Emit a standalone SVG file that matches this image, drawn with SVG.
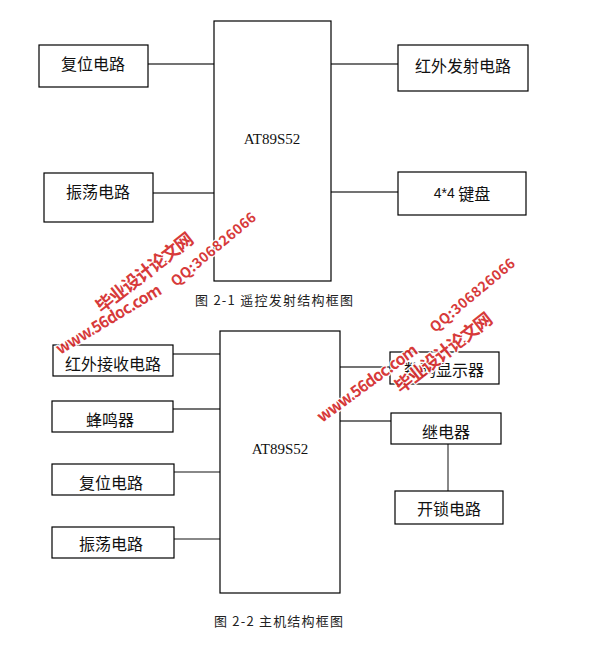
<svg xmlns="http://www.w3.org/2000/svg" width="594" height="653" viewBox="0 0 594 653">
<style>
.box{fill:#fff;stroke:#000;stroke-width:1.2}
.t{font-family:"Noto Sans CJK SC","Noto Sans",sans-serif;font-size:16px;fill:#111;text-anchor:middle;dominant-baseline:central}
.m{font-family:"Liberation Serif",serif;font-size:15px;fill:#111;text-anchor:middle;dominant-baseline:central}
.cap{font-family:"Noto Sans CJK SC","Noto Sans",sans-serif;font-size:13px;fill:#222;dominant-baseline:central}
.ln{stroke:#444;stroke-width:1.3;fill:none}
.lg{stroke:#888;stroke-width:2;fill:none}
.wm{font-family:"Noto Sans CJK SC","Liberation Sans",sans-serif;font-weight:bold;fill:#d42a2a;stroke:#fff;stroke-width:2.5;paint-order:stroke;opacity:0.92}
</style>
<rect width="594" height="653" fill="#fff"/>
<g id="connectors">
<line class="ln" x1="148" y1="64" x2="214" y2="64"/>
<line class="ln" x1="153" y1="193" x2="214" y2="193"/>
<line class="ln" x1="331" y1="64" x2="398" y2="64"/>
<line class="ln" x1="331" y1="192" x2="398" y2="192"/>
<line class="ln" x1="173" y1="354" x2="220" y2="354"/>
<line class="ln" x1="173" y1="409" x2="220" y2="409"/>
<line class="lg" x1="174" y1="472" x2="220" y2="472"/>
<line class="lg" x1="174" y1="539" x2="220" y2="539"/>
<line class="ln" x1="340" y1="367" x2="390" y2="367"/>
<line class="ln" x1="340" y1="421" x2="391" y2="421"/>
<line class="lg" x1="448" y1="444" x2="448" y2="491"/>
</g>
<g id="top-mcu"><rect class="box" x="214" y="21" width="117" height="260"/><text class="m" x="272" y="139">AT89S52</text></g>
<g id="top-reset"><rect class="box" x="39" y="45" width="109" height="42"/><text class="t" x="93" y="63">复位电路</text></g>
<g id="top-osc"><rect class="box" x="44" y="173" width="109" height="49"/><text class="t" x="98" y="191">振荡电路</text></g>
<g id="top-ir"><rect class="box" x="398" y="45" width="130" height="46"/><text class="t" x="463" y="65">红外发射电路</text></g>
<g id="top-kbd"><rect class="box" x="398" y="172" width="128" height="43"/><text class="t" x="462" y="193"><tspan font-family="Liberation Sans,sans-serif" font-size="14">4*4</tspan> 键盘</text></g>
<text class="cap" x="195" y="299" textLength="158">图 2-1 遥控发射结构框图</text>

<g id="bot-mcu"><rect class="box" x="220" y="331" width="120" height="262"/><text class="m" x="280" y="449">AT89S52</text></g>
<g id="bot-irrx"><rect class="box" x="53" y="345" width="120" height="31"/><text class="t" x="113" y="363">红外接收电路</text></g>
<g id="bot-buzz"><rect class="box" x="52" y="401" width="121" height="31"/><text class="t" x="110" y="419">蜂鸣器</text></g>
<g id="bot-reset"><rect class="box" x="52" y="464" width="122" height="31"/><text class="t" x="111" y="482">复位电路</text></g>
<g id="bot-osc"><rect class="box" x="52" y="527" width="122" height="31"/><text class="t" x="111" y="543">振荡电路</text></g>
<g id="bot-disp"><rect class="box" x="390" y="352" width="109" height="32"/><text class="t" x="444" y="369">数码显示器</text></g>
<g id="bot-relay"><rect class="box" x="391" y="413" width="110" height="31"/><text class="t" x="446" y="431">继电器</text></g>
<g id="bot-lock"><rect class="box" x="395" y="491" width="108" height="33"/><text class="t" x="449" y="508">开锁电路</text></g>
<text class="cap" x="214" y="620" textLength="129">图 2-2 主机结构框图</text>

<g id="watermark1">
<text class="wm" font-size="18" transform="translate(102,314) rotate(-38)" textLength="118">毕业设计论文网</text>
<text class="wm" font-size="16" transform="translate(60,355) rotate(-31)" textLength="120">www.56doc.com</text>
<text class="wm" font-size="14" transform="translate(176,287) rotate(-40)" textLength="106">QQ:306826066</text>
</g>
<g id="watermark2">
<text class="wm" font-size="18" transform="translate(401,394) rotate(-38)" textLength="118">毕业设计论文网</text>
<text class="wm" font-size="16" transform="translate(322,423) rotate(-36)" textLength="120">www.56doc.com</text>
<text class="wm" font-size="14" transform="translate(435,333) rotate(-40)" textLength="106">QQ:306826066</text>
</g>
</svg>
